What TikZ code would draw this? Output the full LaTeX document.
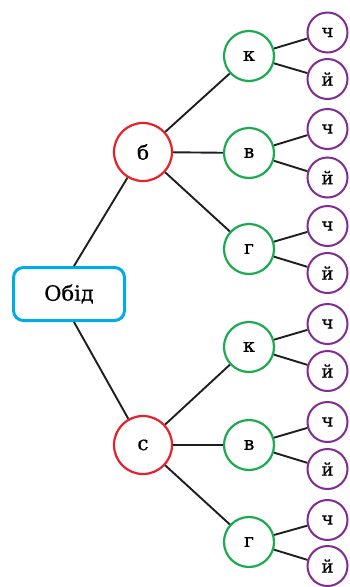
\documentclass[tikz,border=0pt]{standalone}
\usepackage{fontspec}
\setmainfont[FakeBold=0.6]{DejaVu Serif}
\definecolor{cred}{RGB}{232,32,42}
\definecolor{cgreen}{RGB}{28,170,80}
\definecolor{cpurple}{RGB}{128,44,146}
\definecolor{ccyan}{RGB}{0,172,232}
\definecolor{cline}{RGB}{30,30,30}
\begin{document}
\begin{tikzpicture}[x=1pt,y=-1pt,
  rootbox/.style={draw=ccyan,line width=3pt,rounded corners=10pt,minimum width=111pt,minimum height=53pt,inner sep=0pt,font=\fontsize{21}{24}\selectfont},
  redc/.style={circle,draw=cred,line width=2.2pt,minimum size=58pt,inner sep=0pt,font=\fontsize{20}{24}\selectfont},
  greenc/.style={circle,draw=cgreen,line width=2.2pt,minimum size=50pt,inner sep=0pt,font=\fontsize{19}{24}\selectfont},
  purc/.style={circle,draw=cpurple,line width=2pt,minimum size=40pt,inner sep=0pt,font=\fontsize{18}{24}\selectfont},
  conn/.style={draw=cline,line width=1.9pt}]
\useasboundingbox (0,0) rectangle (349,587);
\node[rootbox] (root) at (69,294) {Обід};
\node[redc] (b) at (143,152) {б};
\node[redc] (s) at (143,445) {с};
\node[greenc] (g1) at (249,56) {к};
\node[greenc] (g2) at (249,153) {в};
\node[greenc] (g3) at (249,249) {г};
\node[greenc] (g4) at (249,347) {к};
\node[greenc] (g5) at (249,445) {в};
\node[greenc] (g6) at (249,542) {г};
\node[purc] (p1) at (327.5,32.5) {ч};
\node[purc] (p2) at (327.5,79) {й};
\node[purc] (p3) at (327.5,129) {ч};
\node[purc] (p4) at (327.5,177.5) {й};
\node[purc] (p5) at (327.5,226) {ч};
\node[purc] (p6) at (327.5,273) {й};
\node[purc] (p7) at (327.5,324) {ч};
\node[purc] (p8) at (327.5,371) {й};
\node[purc] (p9) at (327.5,422) {ч};
\node[purc] (p10) at (327.5,469) {й};
\node[purc] (p11) at (327.5,520) {ч};
\node[purc] (p12) at (327.5,566) {й};
\coordinate (rt) at ([xshift=5pt]root.north);
\coordinate (rb) at ([xshift=5pt]root.south);
\draw[conn] (rt) -- (b);
\draw[conn] (rb) -- (s);
\draw[conn] (b) -- (g1);
\draw[conn] (b) -- (g2);
\draw[conn] (b) -- (g3);
\draw[conn] (s) -- (g4);
\draw[conn] (s) -- (g5);
\draw[conn] (s) -- (g6);
\draw[conn] (g1) -- (p1);
\draw[conn] (g1) -- (p2);
\draw[conn] (g2) -- (p3);
\draw[conn] (g2) -- (p4);
\draw[conn] (g3) -- (p5);
\draw[conn] (g3) -- (p6);
\draw[conn] (g4) -- (p7);
\draw[conn] (g4) -- (p8);
\draw[conn] (g5) -- (p9);
\draw[conn] (g5) -- (p10);
\draw[conn] (g6) -- (p11);
\draw[conn] (g6) -- (p12);
\end{tikzpicture}
\end{document}
